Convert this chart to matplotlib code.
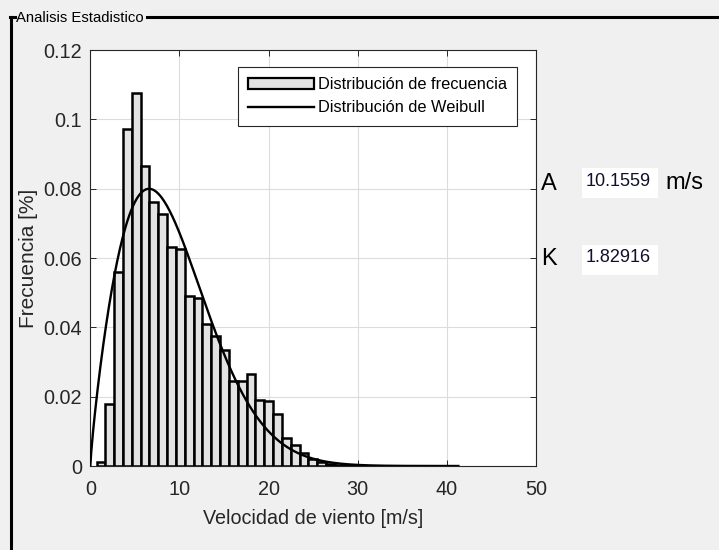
import numpy as np
import matplotlib
matplotlib.use("Agg")
import matplotlib.pyplot as plt
from matplotlib.lines import Line2D

plt.rcParams['font.family'] = ['Liberation Sans', 'DejaVu Sans']

# Weibull parameters of the fit
A = 10.1559
K = 1.82916

# Histogram (probability density) of measured wind speed
bin_start = 0.7
bin_width = 0.99
freq = [0.0012, 0.0180, 0.0559, 0.0971, 0.1075, 0.0865, 0.0761, 0.0726,
        0.0631, 0.0627, 0.0489, 0.0485, 0.0409, 0.0376, 0.0336, 0.0245,
        0.0245, 0.0266, 0.0190, 0.0187, 0.0151, 0.0080, 0.0061, 0.0037,
        0.0021, 0.0011, 0.0006, 0.0004, 0.0003, 0.0002, 0.0001, 0.0001,
        0.0001, 0.0000, 0.0001, 0.0000, 0.0000, 0.0000, 0.0000, 0.0000,
        0.0001]

x_ticks = [0, 10, 20, 30, 40, 50]
y_ticks = [0, 0.02, 0.04, 0.06, 0.08, 0.1, 0.12]
y_tick_labels = ['0', '0.02', '0.04', '0.06', '0.08', '0.1', '0.12']

W, H = 719, 550
fig = plt.figure(figsize=(W / 100, H / 100), dpi=100, facecolor='#f0f0f0')


def fx(px):
    return px / W


def fy(py):
    return 1 - py / H


ax_l, ax_r, ax_t, ax_b = 90.3, 536.0, 50.0, 466.0
ax = fig.add_axes([fx(ax_l), fy(ax_b), fx(ax_r - ax_l), (ax_b - ax_t) / H])
ax.set_facecolor('white')

edges = bin_start + bin_width * np.arange(len(freq))
ax.bar(edges, freq, width=bin_width, align='edge', color='#e3e3e3',
       edgecolor='black', linewidth=1.8, zorder=2)

x_max = edges[-1] + bin_width
xs = np.linspace(0, x_max, 400)
pdf = (K / A) * (xs / A) ** (K - 1) * np.exp(-(xs / A) ** K)
ax.plot(xs, pdf, color='black', linewidth=1.7, zorder=3)

ax.set_xlim(0, 50)
ax.set_ylim(0, 0.12)
ax.set_xticks(x_ticks)
ax.set_yticks(y_ticks)
ax.set_yticklabels(y_tick_labels)
ax.grid(True, color='#dcdcdc', linewidth=0.8, zorder=0)
ax.set_axisbelow(True)
ax.tick_params(direction='in', length=4, width=0.7, colors='#262626',
               labelsize=14.3, top=True, right=True)
ax.tick_params(axis='x', pad=10)
ax.tick_params(axis='y', pad=6)
for s in ax.spines.values():
    s.set_color('#262626')
    s.set_linewidth(0.8)

ax.set_xlabel('Velocidad de viento [m/s]', fontsize=14.2, color='#262626',
              labelpad=7.5)
ax.set_ylabel('Frecuencia [%]', fontsize=15, color='#262626', labelpad=4)

handles = [plt.Rectangle((0, 0), 1, 1, facecolor='#e3e3e3', edgecolor='black',
                         linewidth=1.6),
           Line2D([0], [0], color='black', linewidth=1.7)]
leg = ax.legend(handles, ['Distribución de frecuencia', 'Distribución de Weibull'],
                loc='upper right', bbox_to_anchor=(0.957, 0.959),
                borderaxespad=0, fancybox=False, framealpha=1, fontsize=11.8,
                edgecolor='#262626', handlelength=4.0, handletextpad=0.25,
                borderpad=0.62, labelspacing=0.5)
leg.get_frame().set_linewidth(0.8)

# Panel frame with its title
fig.add_artist(Line2D([fx(10.5), fx(10.5)], [fy(17), fy(550)], color='black',
                      linewidth=2.2))
fig.add_artist(Line2D([fx(9.5), fx(15)], [fy(17), fy(17)], color='black',
                      linewidth=2.2))
fig.add_artist(Line2D([fx(147), fx(719)], [fy(17), fy(17)], color='black',
                      linewidth=2.2))
fig.text(fx(16), fy(18), 'Analisis Estadistico', fontsize=10.7, color='black',
         ha='left', va='center')

# Fitted parameter read-outs
fig.text(fx(541), fy(183.5), 'A', fontsize=17, ha='left', va='center',
         color='black')
fig.text(fx(541), fy(259), 'K', fontsize=17, ha='left', va='center',
         color='black')
for top, val in [(168, f'{A:.4f}'), (245, f'{K:.5f}')]:
    fig.patches.append(plt.Rectangle((fx(582), fy(top + 30)), fx(76), 30 / H,
                                     transform=fig.transFigure,
                                     facecolor='white', edgecolor='none'))
    fig.text(fx(586), fy(top + 13), val, fontsize=13, ha='left', va='center',
             color='#10102a')
fig.text(fx(665), fy(183), 'm/s', fontsize=17, ha='left', va='center',
         color='black')

fig.savefig('out.png', dpi=100, facecolor=fig.get_facecolor())
